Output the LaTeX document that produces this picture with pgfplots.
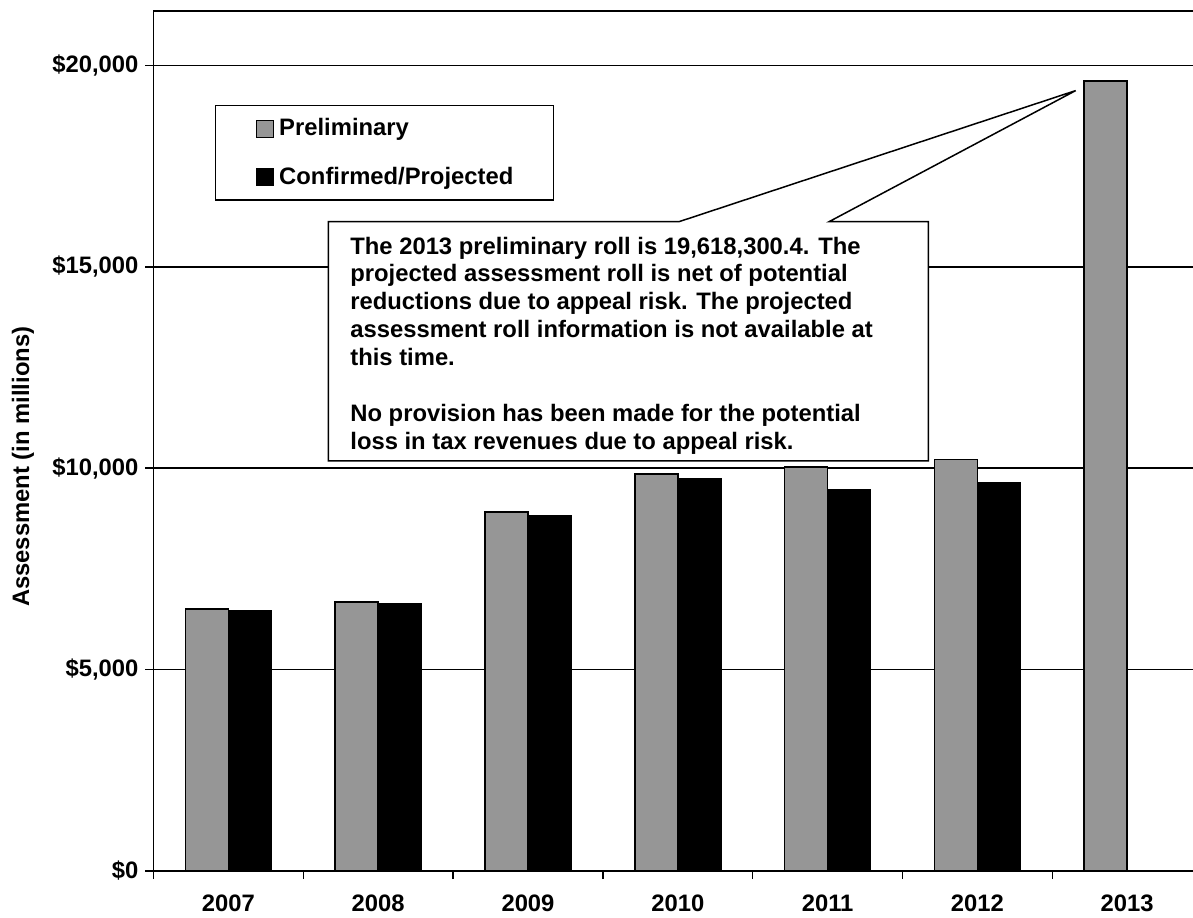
\documentclass[border=0pt]{standalone}
\usepackage{fontspec}
\setmainfont{Liberation Sans}
\usepackage{pgfplots}
\pgfplotsset{compat=1.18}
\definecolor{prelim}{RGB}{150,150,150}
\begin{document}
\begin{tikzpicture}[font=\bfseries\fontsize{11.9}{13.95}\selectfont]
\begin{axis}[
  at={(0,0)}, anchor=south west,
  scale only axis, width=524.3pt, height=430pt,
  xmin=-0.5, xmax=6.5, ymin=0, ymax=21350,
  ybar=0pt, bar width=21.5pt,
  axis line style={line width=0.75pt},
  tick style={line width=0.75pt, black},
  major tick length=4pt, tick align=outside,
  xtick pos=bottom, ytick pos=left,
  xtick={-0.5,0.5,1.5,2.5,3.5,4.5,5.5},
  xticklabels={2007,2008,2009,2010,2011,2012,2013},
  xticklabel style={xshift=37.45pt, yshift=-4.5pt},
  ytick={0,5000,10000,15000,20000},
  yticklabels={\$0,{\$5,000},{\$10,000},{\$15,000},{\$20,000}},
  /pgf/number format/assume math mode=true,
  ymajorgrids, grid style={black, line width=0.75pt},
  ylabel={Assessment (in millions)},
  ylabel style={at={([xshift=-65.25pt]rel axis cs:0,0.47)}, anchor=center},
  legend style={at={(axis cs:-0.0895,19019)}, anchor=north west, draw=black,
    line width=0.75pt, inner xsep=20pt, inner ysep=6.5pt, row sep=14pt,
    column sep=2.5pt, nodes={inner sep=0pt}},
  legend cell align=left,
]
\addplot[fill=prelim, draw=black, line width=0.75pt,
  legend image code/.code={\draw[fill=prelim, draw=black, line width=0.75pt] (0pt,-4.25pt) rectangle (8.5pt,4.25pt);}]
  coordinates {(0,6505) (1,6679) (2,8912) (3,9856) (4,10030) (5,10211) (6,19618.3)};
\addplot[fill=black, draw=black, line width=0.75pt,
  legend image code/.code={\draw[fill=black, draw=black, line width=0.75pt] (0pt,-4.25pt) rectangle (8.5pt,4.25pt);}]
  coordinates {(0,6463) (1,6637) (2,8820) (3,9739) (4,9458) (5,9632)};
\legend{Preliminary, Confirmed/Projected}
\draw[line width=0.75pt, fill=white]
  (axis cs:0.667,16122) -- (axis cs:3.010,16122) -- (axis cs:5.656,19374)
  -- (axis cs:4.011,16122) -- (axis cs:4.672,16122) -- (axis cs:4.672,10180)
  -- (axis cs:0.667,10180) -- cycle;
\node[anchor=north west, inner sep=0pt, align=left] at (axis cs:0.8117,15754)
  {The 2013 preliminary roll is 19,618,300.4. The\\
   projected assessment roll is net of potential\\
   reductions due to appeal risk. The projected\\
   assessment roll information is not available at\\
   this time.\\[13.95pt]
   No provision has been made for the potential\\
   loss in tax revenues due to appeal risk.};
\end{axis}
\pgfresetboundingbox
\useasboundingbox (-76.75pt,-23pt) rectangle (519.75pt,435.5pt);
\end{tikzpicture}
\end{document}
